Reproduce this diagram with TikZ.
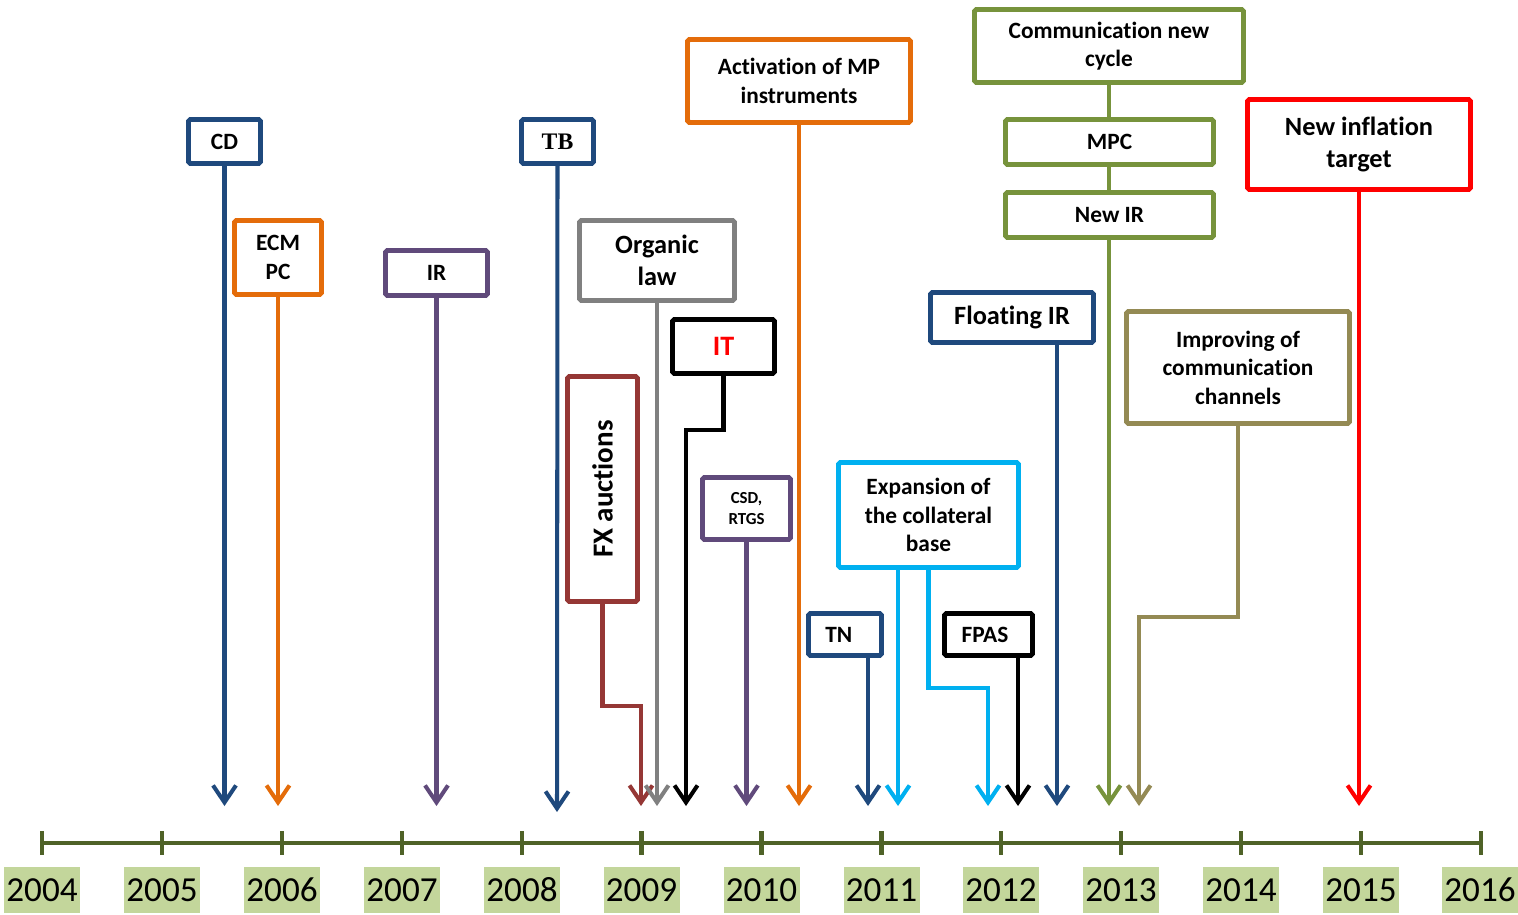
\documentclass[tikz,border=0pt]{standalone}
\usepackage{fontspec}
\setmainfont{Carlito}[Ligatures=NoCommon]
\newfontfamily\tbfont{Liberation Serif}
\usetikzlibrary{arrows.meta}
\definecolor{evblue}{HTML}{1F497D}
\definecolor{evorange}{HTML}{E46C0A}
\definecolor{evpurple}{HTML}{604A7B}
\definecolor{evgray}{HTML}{808080}
\definecolor{evdred}{HTML}{953735}
\definecolor{evcyan}{HTML}{00B0F0}
\definecolor{evgreen}{HTML}{77933C}
\definecolor{evolive}{HTML}{948A54}
\definecolor{evred}{HTML}{FF0000}
\definecolor{axisgreen}{HTML}{4F6228}
\definecolor{yearfill}{HTML}{C3D69B}

\begin{document}
\begin{tikzpicture}[x=0.02cm,y=-0.02cm,line cap=butt,
  evbox/.style={draw=#1,line width=2.8pt,fill=white,rounded corners=1pt,inner sep=0pt,outer sep=0pt,align=center,font=\bfseries\fontsize{13.3}{16.2}\selectfont},
  bigtext/.style={font=\bfseries\fontsize{15}{18.5}\selectfont},
  evline/.style={draw=#1,line width=2.3pt,-{Straight Barb[length=3.4mm,width=4.6mm]}},
  axisline/.style={draw=axisgreen,line width=2.5pt},
  yearlab/.style={fill=yearfill,minimum width=1.52cm,minimum height=0.92cm,inner sep=0pt,font=\fontsize{20}{24}\selectfont}]
\useasboundingbox (0,0) rectangle (1518,915);

% time axis
\draw[axisline] (42,843) -- (1481,843);
\draw[axisline] (42,831) -- (42,855);
\draw[axisline] (162,831) -- (162,855);
\draw[axisline] (282,831) -- (282,855);
\draw[axisline] (402,831) -- (402,855);
\draw[axisline] (522,831) -- (522,855);
\draw[axisline] (641.5,831) -- (641.5,855);
\draw[axisline] (761.5,831) -- (761.5,855);
\draw[axisline] (881.5,831) -- (881.5,855);
\draw[axisline] (1001,831) -- (1001,855);
\draw[axisline] (1121,831) -- (1121,855);
\draw[axisline] (1241,831) -- (1241,855);
\draw[axisline] (1361,831) -- (1361,855);
\draw[axisline] (1481,831) -- (1481,855);
\node[yearlab] (y2004) at (42,890) {2004};
\node[yearlab] (y2005) at (162,890) {2005};
\node[yearlab] (y2006) at (282,890) {2006};
\node[yearlab] (y2007) at (402,890) {2007};
\node[yearlab] (y2008) at (522,890) {2008};
\node[yearlab] (y2009) at (641.5,890) {2009};
\node[yearlab] (y2010) at (761.5,890) {2010};
\node[yearlab] (y2011) at (881.5,890) {2011};
\node[yearlab] (y2012) at (1001,890) {2012};
\node[yearlab] (y2013) at (1121,890) {2013};
\node[yearlab] (y2014) at (1241,890) {2014};
\node[yearlab] (y2015) at (1361,890) {2015};
\node[yearlab] (y2016) at (1480,890) {2016};

% events
\node[evbox=evblue,minimum width=1.44cm,minimum height=0.88cm] (cd) at (224.5,141.5) {CD};
\node[evbox=evorange,minimum width=1.74cm,minimum height=1.48cm] (ecm) at (278,257.5) {ECM\\PC};
\node[evbox=evpurple,minimum width=2.04cm,minimum height=0.9cm] (ir) at (436.5,273) {IR};
\node[evbox=evblue,minimum width=1.44cm,minimum height=0.88cm,font=\tbfont\bfseries\fontsize{13.5}{16}\selectfont] (tb) at (557.5,141.5) {TB};
\node[evbox=evgray,bigtext,minimum width=3.1cm,minimum height=1.6cm] (org) at (657,260.5) {Organic\\law};
\node[evbox=evdred,rotate=90,minimum width=4.5cm,minimum height=1.4cm,font=\bfseries\fontsize{16.5}{20}\selectfont] (fx) at (602.5,489) {FX auctions};
\node[evbox=black,minimum width=2.04cm,minimum height=1.08cm,text=evred,font=\bfseries\fontsize{16}{19}\selectfont] (it) at (723.5,346.5) {IT};
\node[evbox=evpurple,minimum width=1.76cm,minimum height=1.24cm,font=\bfseries\fontsize{9.6}{12.4}\selectfont] (csd) at (746.5,508.5) {CSD,\\RTGS};
\node[evbox=evorange,minimum width=4.46cm,minimum height=1.66cm] (act) at (799,81) {Activation of MP\\instruments};
\node[evbox=evblue,minimum width=1.46cm,minimum height=0.84cm] (tn) at (845,634.5) {TN\hspace*{7pt}};
\node[evbox=evcyan,minimum width=3.6cm,minimum height=2.1cm] (exp) at (928.5,515) {Expansion of\\the collateral\\base};
\node[evbox=black,minimum width=1.76cm,minimum height=0.84cm] (fpas) at (988.5,634.5) {FPAS\hspace*{4pt}};
\node[evbox=evblue,bigtext,minimum width=3.26cm,minimum height=1cm] (flt) at (1012,317.5) {Floating IR};
\node[evbox=evgreen,minimum width=5.38cm,minimum height=1.46cm] (comm) at (1109,46) {Communication new\\cycle};
\node[evbox=evgreen,minimum width=4.16cm,minimum height=0.9cm] (mpc) at (1109.5,142) {MPC};
\node[evbox=evgreen,minimum width=4.16cm,minimum height=0.9cm] (nir) at (1109.5,215) {New IR};
\node[evbox=evolive,minimum width=4.46cm,minimum height=2.24cm] (imp) at (1238,367.5) {Improving of\\communication\\channels};
\node[evbox=evred,bigtext,minimum width=4.46cm,minimum height=1.8cm] (nit) at (1359,144.5) {New inflation\\target};

% arrows to the axis
\coordinate (tips) at (0,806);
\coordinate (tbtip) at (557,812);
\draw[evline=evblue] (cd.south) -- (cd.south |- tips);
\draw[evline=evorange] (ecm.south) -- (ecm.south |- tips);
\draw[evline=evpurple] (ir.south) -- (ir.south |- tips);
\draw[evline=evblue] (tb.south) -- (tbtip);
\draw[evline=evdred] (fx.west) |- (641,706) -- (641,0 |- tips);
\draw[evline=evgray] (org.south) -- (org.south |- tips);
\draw[evline=black] (it.south) |- (686,430) -- (686,0 |- tips);
\draw[evline=evpurple] (csd.south) -- (csd.south |- tips);
\draw[evline=evorange] (act.south) -- (act.south |- tips);
\draw[evline=evblue] (tn.south -| 868,0) -- (868,0 |- tips);
\draw[evline=evcyan] (exp.south -| 898,0) -- (898,0 |- tips);
\draw[evline=evcyan] (exp.south) |- (988,688) -- (988,0 |- tips);
\draw[evline=black] (fpas.south -| 1018,0) -- (1018,0 |- tips);
\draw[evline=evblue] (flt.south -| 1057,0) -- (1057,0 |- tips);
\draw[evgreen,line width=2.3pt] (comm.south) -- (comm.south |- mpc.north);
\draw[evgreen,line width=2.3pt] (comm.south |- mpc.south) -- (comm.south |- nir.north);
\draw[evline=evgreen] (comm.south |- nir.south) -- (comm.south |- tips);
\draw[evline=evolive] (imp.south) |- (1139,617) -- (1139,0 |- tips);
\draw[evline=evred] (nit.south) -- (nit.south |- tips);
\end{tikzpicture}
\end{document}
